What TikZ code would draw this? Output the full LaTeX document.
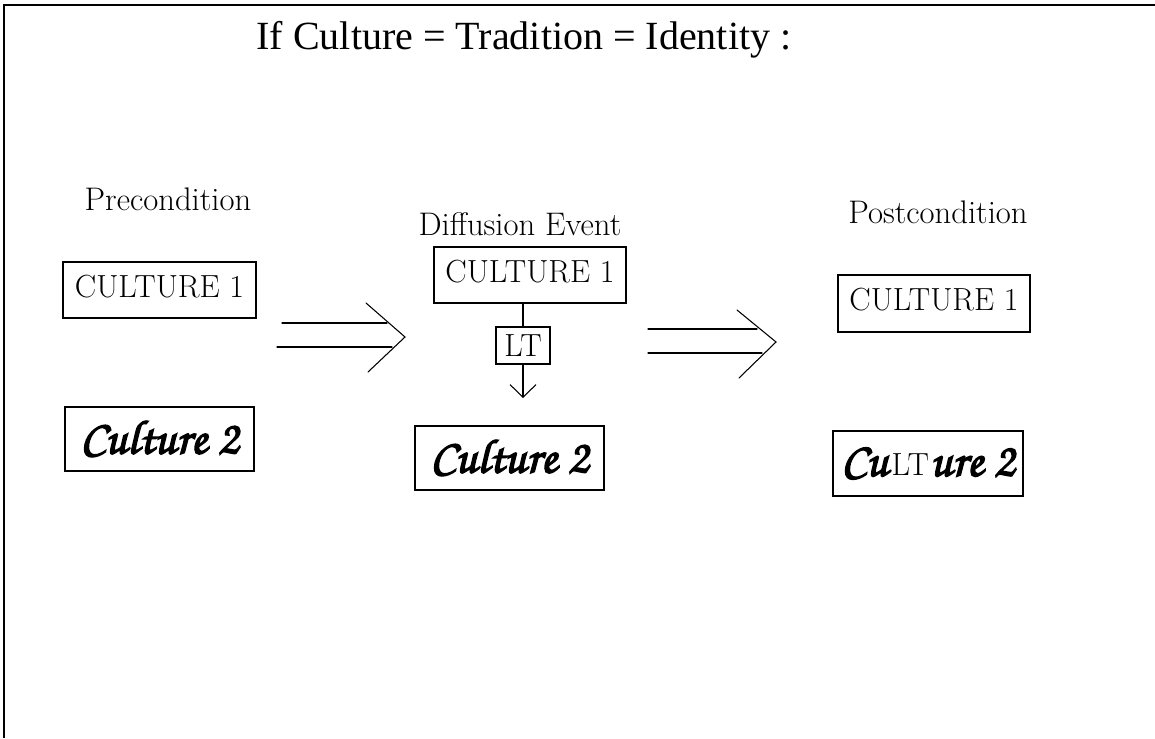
\documentclass[tikz,border=0pt]{standalone}
\usepackage{fontspec}
\newfontfamily\titlefont{Liberation Serif}
\newfontfamily\chorusfont[FakeBold=3]{texgyrechorus-mediumitalic.otf}
\usetikzlibrary{arrows.meta}
\tikzset{
  frame/.style={line width=2.2pt},
  box/.style={draw,line width=0.8pt,inner sep=0pt,text height=16.5pt,text depth=6pt,
    font=\fontsize{24}{28}\selectfont},
  scriptbox/.style={draw,line width=0.8pt,inner sep=0pt,minimum width=141.75pt,minimum height=48pt,
    font=\chorusfont\fontsize{36}{42}\selectfont},
  lbl/.style={anchor=base,font=\fontsize{24.5}{28}\selectfont},
  thin/.style={line width=0.8pt},
  dbl/.style={line width=0.8pt,line cap=round,line join=miter},
}
\begin{document}
\begin{tikzpicture}[x=0.75pt,y=-0.75pt]
\useasboundingbox (0,0) rectangle (1155,738);
\draw[frame] (4,738) -- (4,5) -- (1155,5);
\node[anchor=base,font=\titlefont\fontsize{30}{36}\selectfont] (title) at (524,50) {If Culture = Tradition = Identity :};

\node[lbl] (pre) at (168,210) {Precondition};
\node[lbl] (diff) at (520,235) {Diffusion Event};
\node[lbl] (post) at (938,223) {Postcondition};

\node[box,minimum width=144.75pt,minimum height=42pt] (L1) at (159.5,290) {CULTURE 1};
\node[scriptbox] (L2) at (159.5,439) {Culture 2};

\node[box,minimum width=144pt,minimum height=42pt] (M1) at (530,275) {CULTURE 1};
\node[box,minimum width=40.5pt,minimum height=27.75pt,text height=16.5pt,text depth=0pt] (LT) at (523,345.5) {LT};
\node[scriptbox] (M2) at (509.5,458) {Culture 2};
\coordinate (LTend) at (523,398);
\draw[thin] (M1.south -| LT.north) -- (LT.north);
\draw[thin,-{Straight Barb[length=9.5pt,width=19.5pt,line width=0.8pt]}] (LT.south) -- (LTend);

\node[box,minimum width=144pt,minimum height=42.75pt] (R1) at (934,303.5) {CULTURE 1};
\node[scriptbox,minimum width=142.5pt,minimum height=48.75pt] (R2) at (928,463.5) {Cu\hspace{2.5pt}{\normalfont\fontsize{24}{28}\selectfont LT}\hspace{1pt}ure 2};

% double arrows
\draw[dbl] (282,323) -- (387,323);
\draw[dbl] (277,347) -- (392,347);
\draw[dbl] (366,303) -- (405,337) -- (368,372);
\draw[dbl] (648,329) -- (757,329);
\draw[dbl] (648,353) -- (762,353);
\draw[dbl] (737,310) -- (776,342) -- (739,378);
\end{tikzpicture}
\end{document}
